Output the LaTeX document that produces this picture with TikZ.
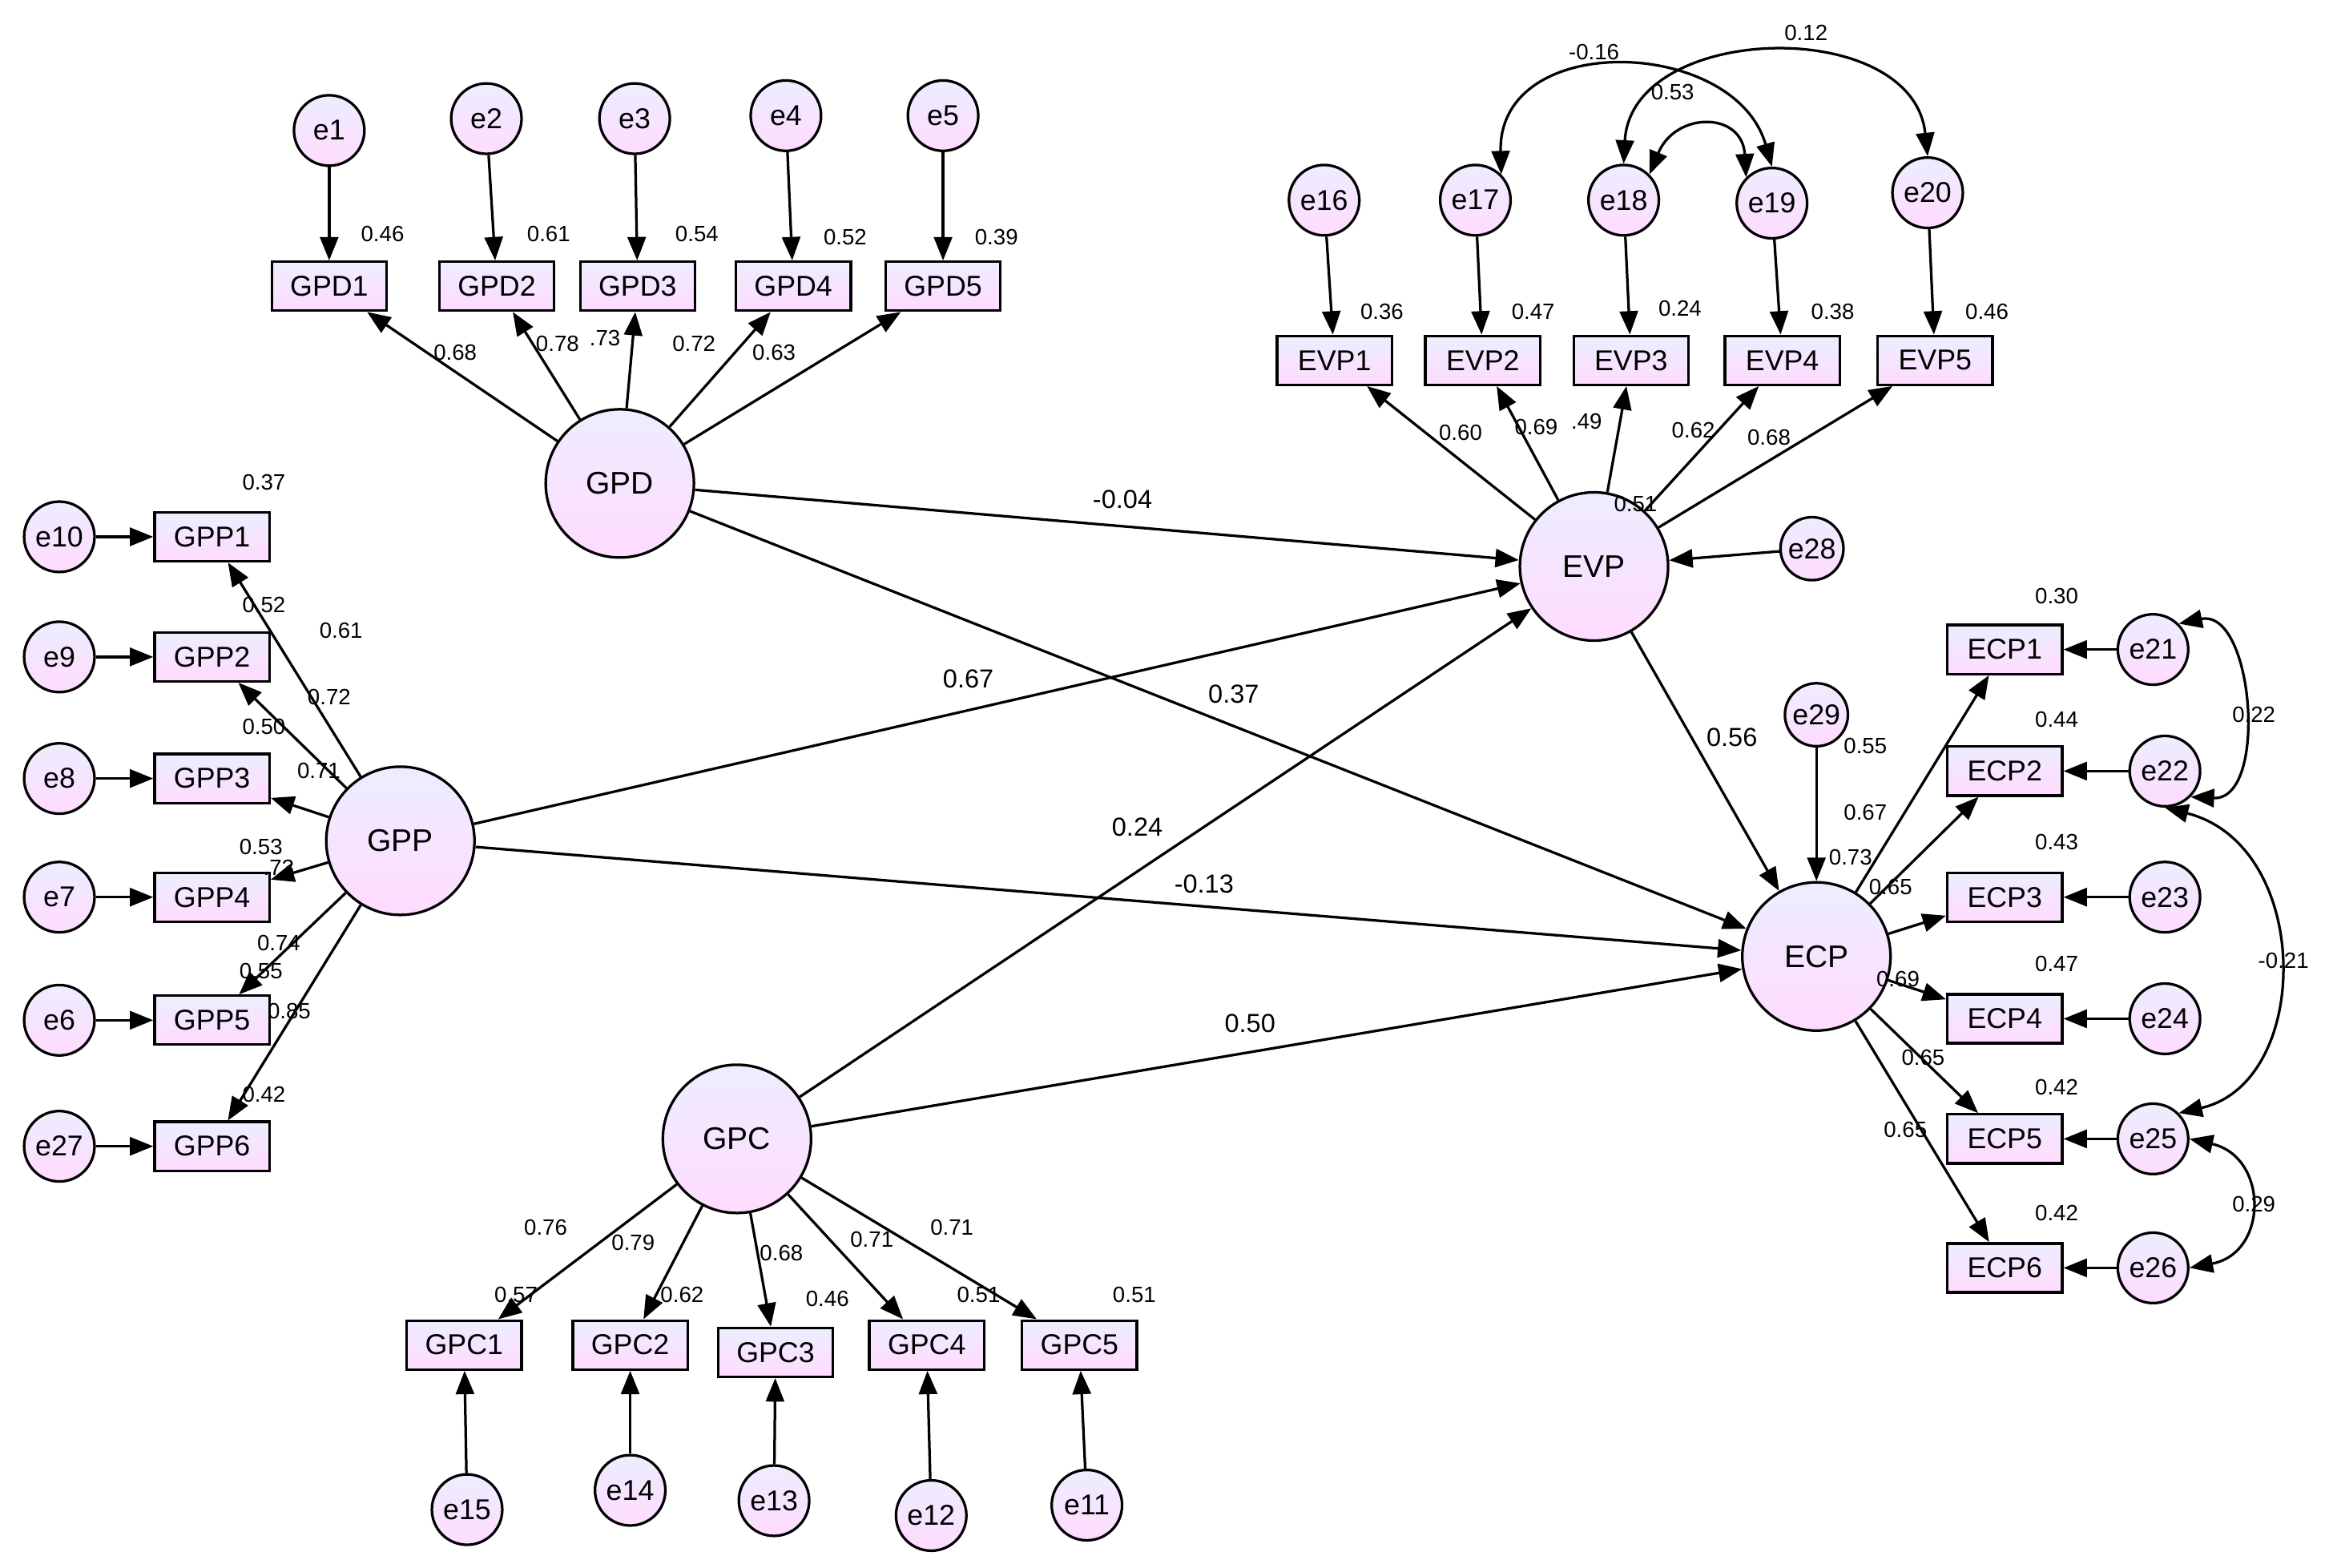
\documentclass[tikz,border=0pt]{standalone}
\usepackage{fontspec}
\setmainfont{Liberation Sans}
\usetikzlibrary{arrows.meta}
\begin{document}
\begin{tikzpicture}[x=0.02cm,y=-0.02cm,
 sh/.style={top color=blue!7!white,bottom color=magenta!14!white,draw=black,line width=1pt},
 obs/.style={sh,rectangle,minimum width=78\pgflinewidth,inner sep=0pt,minimum width=1.55cm,minimum height=0.66cm,font=\fontsize{11}{13}\selectfont},
 lat/.style={sh,circle,minimum size=2cm,inner sep=0pt,font=\fontsize{12}{14}\selectfont},
 err/.style={sh,circle,minimum size=0.95cm,inner sep=0pt,font=\fontsize{11}{13}\selectfont},
 ar/.style={-{Triangle[length=9pt,width=7pt]},line width=1pt},
 cv/.style={{Triangle[length=9pt,width=7pt]}-{Triangle[length=9pt,width=7pt]},line width=1pt},
 lb/.style={font=\fontsize{8.5}{10}\selectfont,inner sep=1pt}]
\useasboundingbox (0,0) rectangle (1568,1057);
% GPD block
\node[lat] (GPD) at (418,326) {GPD};
\foreach \i/\x/\ex/\ey in {1/222/222/88,2/335/328/80,3/430/428/80,4/535/530/78,5/636/636/78}{
 \node[obs] (GPD\i) at (\x,193) {GPD\i};
 \node[err] (e\i) at (\ex,\ey) {e\i};
 \draw[ar] (e\i) -- (GPD\i);
 \draw[ar] (GPD) -- (GPD\i);}
\foreach \t/\x/\y in {0.46/258/158,0.61/370/158,0.54/470/158,0.52/570/160,0.39/672/160,0.68/307/238,0.78/376/232,.73/408/228,0.72/468/232,0.63/522/238}
 \node[lb] at (\x,\y) {\t};
% EVP block
\node[lat] (EVP) at (1075,382) {EVP};
\foreach \i/\x/\ex/\ey in {1/900/893/135,2/1000/995/135,3/1100/1095/135,4/1202/1195/137,5/1305/1300/130}{
 \pgfmathtruncatemacro\en{15+\i}
 \node[obs] (EVP\i) at (\x,243) {EVP\i};
 \node[err] (e\en) at (\ex,\ey) {e\en};
 \draw[ar] (e\en) -- (EVP\i);
 \draw[ar] (EVP) -- (EVP\i);}
\foreach \t/\x/\y in {0.36/932/210,0.47/1034/210,0.24/1133/208,0.38/1236/210,0.46/1340/210,0.60/985/292,0.69/1036/288,.49/1070/284,0.51/1103/340,0.62/1142/290,0.68/1193/295}
 \node[lb] at (\x,\y) {\t};
\draw[cv] (e17.north east) .. controls (1010,20) and (1170,25) .. (e19.north);
\draw[cv] (e18.north) .. controls (1100,15) and (1290,10) .. (e20.north);
\draw[cv] (e18.north east) .. controls (1130,75) and (1175,75) .. (e19.north west);
\node[lb] at (1075,35) {-0.16};
\node[lb] at (1218,22) {0.12};
\node[lb] at (1128,62) {0.53};
\node[err,minimum size=0.85cm] (e28) at (1222,370) {e28};
\draw[ar] (e28) -- (EVP);
% GPP block
\node[lat] (GPP) at (270,567) {GPP};
\foreach \i/\y/\en in {1/362/10,2/443/9,3/525/8,4/605/7,5/688/6,6/773/27}{
 \node[obs] (GPP\i) at (143,\y) {GPP\i};
 \node[err] (e\en) at (40,\y) {e\en};
 \draw[ar] (e\en) -- (GPP\i);
 \draw[ar] (GPP) -- (GPP\i);}
\foreach \t/\x/\y in {0.37/178/325,0.52/178/408,0.50/178/490,0.53/176/571,0.55/176/655,0.42/178/738,0.61/230/425,0.72/222/470,0.71/215/520,.73/188/585,0.74/188/636,0.85/195/682}
 \node[lb] at (\x,\y) {\t};
% GPC block
\node[lat] (GPC) at (497,768) {GPC};
\foreach \i/\x/\y/\ex/\ey/\en in {1/313/907/315/1018/15,2/425/907/425/1005/14,3/523/912/522/1012/13,4/625/907/628/1022/12,5/728/907/733/1015/11}{
 \node[obs] (GPC\i) at (\x,\y) {GPC\i};
 \node[err] (e\en) at (\ex,\ey) {e\en};
 \draw[ar] (e\en) -- (GPC\i);
 \draw[ar] (GPC) -- (GPC\i);}
\foreach \t/\x/\y in {0.76/368/828,0.79/427/838,0.68/527/845,0.71/588/836,0.71/642/828,0.57/348/873,0.62/460/873,0.46/558/876,0.51/660/873,0.51/765/873}
 \node[lb] at (\x,\y) {\t};
% ECP block
\node[lat] (ECP) at (1225,645) {ECP};
\foreach \i/\y/\ex in {1/438/1452,2/520/1460,3/605/1460,4/687/1460,5/768/1452,6/855/1452}{
 \pgfmathtruncatemacro\en{20+\i}
 \node[obs] (ECP\i) at (1352,\y) {ECP\i};
 \node[err] (e\en) at (\ex,\y) {e\en};
 \draw[ar] (e\en) -- (ECP\i);
 \draw[ar] (ECP) -- (ECP\i);}
\foreach \t/\x/\y in {0.30/1387/402,0.44/1387/485,0.43/1387/568,0.47/1387/650,0.42/1387/733,0.42/1387/818,0.55/1258/503,0.67/1258/548,0.73/1248/578,0.65/1275/598,0.69/1280/660,0.65/1297/713,0.65/1285/762}
 \node[lb] at (\x,\y) {\t};
\draw[cv] (e21.north east) .. controls (1520,410) and (1530,540) .. (e22.south east);
\draw[cv] (e22.south) .. controls (1560,570) and (1560,730) .. (e25.north east);
\draw[cv] (e25.east) .. controls (1530,780) and (1530,845) .. (e26.east);
\node[lb] at (1520,482) {0.22};
\node[lb] at (1540,648) {-0.21};
\node[lb] at (1520,812) {0.29};
\node[err,minimum size=0.85cm] (e29) at (1225,482) {e29};
\draw[ar] (e29) -- (ECP);
% structural paths
\draw[ar] (GPD) -- (EVP);
\draw[ar] (GPD) -- (ECP);
\draw[ar] (GPP) -- (EVP);
\draw[ar] (GPP) -- (ECP);
\draw[ar] (GPC) -- (EVP);
\draw[ar] (GPC) -- (ECP);
\draw[ar] (EVP) -- (ECP);
\foreach \t/\x/\y in {-0.04/757/337,0.37/832/468,0.67/653/458,-0.13/812/596,0.24/767/558,0.50/843/690,0.56/1168/497}
 \node[lb,font=\fontsize{10}{12}\selectfont] at (\x,\y) {\t};
\end{tikzpicture}
\end{document}
